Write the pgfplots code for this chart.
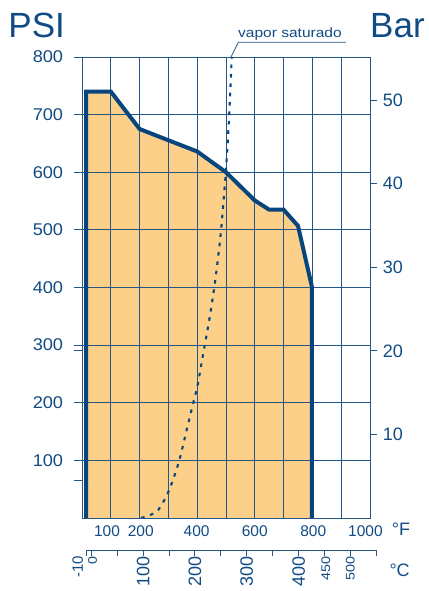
\documentclass[border=0pt]{standalone}
\usepackage{pgfplots}
\pgfplotsset{compat=1.18}
\usepackage{pgfplotstable}
\usepackage{fontspec}
\setmainfont{Liberation Sans}
\newfontfamily\stretchfont[FakeStretch=1.07]{Liberation Sans}
\newfontfamily\cfont[FakeStretch=1.15]{Liberation Sans}
\newfontfamily\vfont[FakeStretch=1.15]{Liberation Sans}
\definecolor{txt}{HTML}{114B85}
\definecolor{grd}{HTML}{245687}
\definecolor{fillc}{HTML}{FDD089}
\definecolor{env}{HTML}{08457C}
\newcommand{\fs}[1]{\fontsize{#1}{#1}\selectfont}
\pgfplotstableread{
F P
14 0
14 740
100 740
200 675
400 636
500 600
600 551
650 535
700 535
750 507
798 402
798 0
}\envtab
\pgfplotstableread{
F P
205 0
236 5
265 14
297 42
320 72
340 104
363 152
386 199
402 232
419 280
442 344
462 410
481 490
493 560
500 605
510 688
520 800
}\vaptab
\begin{document}
\begin{tikzpicture}
\begin{axis}[
  set layers,
  at={(82pt,73pt)}, anchor=south west,
  scale only axis, width=288pt, height=461pt,
  xmin=0, xmax=1000, ymin=0, ymax=800,
  axis line style={grd, line width=0.8pt},
  xtick={100,200,...,900}, xticklabels={},
  ytick={100,200,...,800},
  xmajorgrids, ymajorgrids,
  grid style={grd, line width=0.8pt},
  tick align=outside, ytick pos=left, xtick pos=bottom,
  x tick style={draw=none},
  y tick style={grd, line width=0.8pt},
  major tick length=8pt,
  extra y ticks={290,66}, extra y tick labels={}, extra y tick style={grid=none},
  extra x ticks={87,204,398,600,803,984},
  extra x tick labels={100,200,400,600,800,1000},
  extra x tick style={grid=none, major tick length=0pt},
  yticklabel style={anchor=east, inner sep=0pt, xshift=-10.7pt, font=\stretchfont\fs{17}, text=txt},
  xticklabel style={anchor=north, inner sep=0pt, yshift=-7pt, font=\fs{15.5}, text=txt},
  /pgf/number format/assume math mode=true,
  /pgf/number format/set thousands separator={},
]
\addplot[on layer=axis background, fill=fillc, draw=none] table {\envtab} \closedcycle;
\addplot[env, line width=4pt, line join=miter] table {\envtab};
\addplot[env, line width=2.1pt, dash pattern=on 3.6pt off 5.8pt, smooth] table {\vaptab};
\end{axis}
\begin{axis}[
  at={(82pt,73pt)}, anchor=south west,
  scale only axis, width=288pt, height=461pt,
  xmin=0, xmax=1000, ymin=0, ymax=800,
  hide x axis, axis y line*=right,
  axis line style={grd, line width=0.8pt, -},
  ytick={145.04,290.08,435.11,580.15,725.19},
  yticklabels={10,20,30,40,50},
  tick align=outside, major tick length=7pt,
  y tick style={grd, line width=0.8pt},
  yticklabel style={anchor=west, inner sep=0pt, xshift=5.7pt, font=\fs{18}, text=txt},
]
\addplot[draw=none] coordinates {(0,0) (1000,800)};
\end{axis}
\begin{axis}[
  at={(86.03pt,41pt)}, anchor=south west,
  scale only axis, width=290.3pt, height=20pt,
  xmin=-10, xmax=550, ymin=0, ymax=1,
  hide y axis, axis x line*=bottom,
  axis line style={grd, line width=0.8pt, -},
  xtick={-10,0,50,100,150,200,250,300,350,400,450,500,550},
  xticklabels={{\raisebox{8.4pt}[\height][\depth]{\fs{15}-10}},{\raisebox{-1.3pt}[\height][\depth]{\cfont\fs{12.5}0}},{},100,{},200,{},300,{},400,{\raisebox{-1.4pt}[\height][\depth]{\cfont\fs{12.5}450}},{\cfont\fs{12.5}500},{}},
  tick align=outside, major tick length=6pt,
  x tick style={grd, line width=0.8pt},
  xticklabel style={rotate=90, anchor=east, inner sep=0pt, font=\fs{18}, text=txt},
]
\addplot[draw=none] coordinates {(-10,0) (550,1)};
\end{axis}
\node[anchor=base west, inner sep=0pt, text=txt, font=\fs{35}] at (8.3pt,553pt) {PSI};
\node[anchor=base west, inner sep=0pt, text=txt, font=\fs{35}] at (370pt,553pt) {Bar};
\node[anchor=base west, inner sep=0pt, text=txt, font=\fs{18}] at (391.7pt,55.3pt) {°F};
\node[anchor=base west, inner sep=0pt, text=txt, font=\fs{18}] at (389.3pt,14.3pt) {°C};
\node[anchor=base west, inner sep=0pt, text=txt, font=\vfont\fs{13.5}] at (238pt,553.3pt) {vapor saturado};
\draw[grd, line width=0.8pt] (231pt,534pt) -- (238.3pt,548.7pt) -- (346pt,548.7pt);
\pgfresetboundingbox
\path[use as bounding box] (0pt,0pt) rectangle (428pt,591pt);
\end{tikzpicture}
\end{document}
